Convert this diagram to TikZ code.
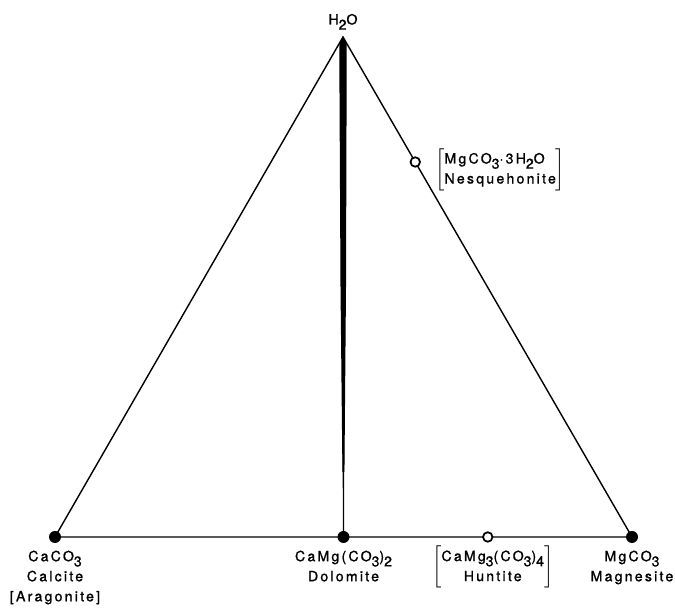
\documentclass[tikz,border=0pt]{standalone}
\usepackage{fontspec}
\setmainfont{TeX Gyre Heros}[LetterSpace=16, FakeBold=1.2]
\usetikzlibrary{positioning}
\usetikzlibrary{calc}
\newcommand{\dn}[1]{\raisebox{-0.7ex}{#1}}

\begin{document}
\begin{tikzpicture}[
    side/.style={line width=0.8pt},
    solid/.style={circle, fill=black, inner sep=0pt, minimum size=0.24cm},
    hollow/.style={circle, draw=black, fill=white, line width=1pt, inner sep=0pt, minimum size=0.19cm},
    lbl/.style={align=center, inner sep=0pt, font=\fontsize{8}{11.4}\selectfont}
]
    \useasboundingbox (0,0) rectangle (13.5,12.16);

    \coordinate (water) at (6.86, 11.42);
    \coordinate (calcite) at (1.10, 1.42);
    \coordinate (magnesite) at (12.64, 1.42);
    \coordinate (dolomite) at ($(calcite)!0.5!(magnesite)$);
    \coordinate (huntite) at ($(calcite)!0.75!(magnesite)$);
    \coordinate (nesq) at ($(water)!0.25!(magnesite)$);

    \draw[side] (calcite) -- (water) -- (magnesite) -- cycle;
    \draw[side] (water) -- (dolomite);
    \fill (water) -- ($(water)+(0.075,-0.15)$) -- ($(water)!0.5!(dolomite)+(0.055,0)$)
        -- ($(water)!0.87!(dolomite)+(0.02,0)$) -- ($(water)!0.87!(dolomite)+(-0.02,0)$)
        -- ($(water)!0.5!(dolomite)+(-0.055,0)$) -- ($(water)+(-0.075,-0.15)$) -- cycle;

    \node[solid] (ca) at (calcite) {};
    \node[solid] (mg) at (magnesite) {};
    \node[solid] (dol) at (dolomite) {};
    \node[hollow] (hunt) at (huntite) {};
    \node[hollow] (nes) at (nesq) {};

    \node[lbl, above=0.14cm of water] (lwater) {H\dn{2}O};
    \node[lbl, below=0.14cm of ca] (lca) {CaCO\dn{3}\\Calcite\\{[}Aragonite{]}};
    \node[lbl, below=0.14cm of dol] (ldol) {CaMg(CO\dn{3})\dn{2}\\Dolomite};
    \node[lbl, below=0.14cm of mg] (lmg) {MgCO\dn{3}\\Magnesite};
    \node[lbl, below=0.06cm of hunt, xshift=0.1cm] (lhunt)
        {$\left[\begin{tabular}{@{}c@{}}CaMg\dn{3}(CO\dn{3})\dn{4}\\Huntite\end{tabular}\right]$};
    \node[lbl, right=0.28cm of nes, yshift=-0.15cm] (lnes)
        {$\left[\begin{tabular}{@{}l@{}}MgCO\dn{3}·3H\dn{2}O\\Nesquehonite\end{tabular}\right]$};
\end{tikzpicture}
\end{document}
